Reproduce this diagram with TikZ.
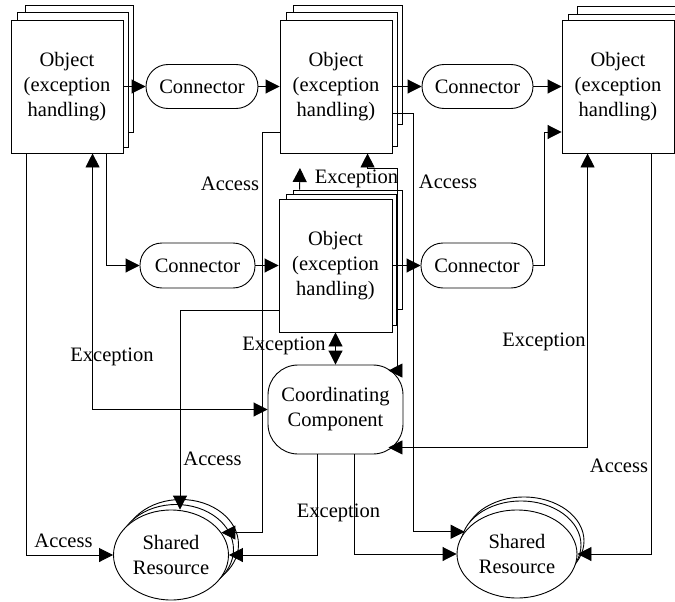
\documentclass[tikz,border=0pt]{standalone}
\usepackage{fontspec}
\setmainfont{Liberation Serif}
\usetikzlibrary{arrows.meta,shapes.geometric}
\begin{document}
\begin{tikzpicture}[x=1pt,y=-1pt,
  every node/.style={font=\fontsize{20.5}{25}\selectfont, inner sep=0pt},
  tip/.tip={Triangle[length=14pt,width=14pt]},
  arr/.style={line width=0.9pt,-tip},
  arrboth/.style={line width=0.9pt,tip-tip},
  obj/.style={draw, fill=white, line width=0.9pt, align=center,
              minimum width=112pt, minimum height=133pt},
  layer/.style={draw, fill=white, line width=0.9pt},
  conn/.style={draw, fill=white, line width=0.9pt, rounded corners=22pt,
               minimum width=112pt, minimum height=44pt},
  res/.style={ellipse, draw, fill=white, line width=0.9pt, align=center},
  lbl/.style={anchor=base}
]
\useasboundingbox (0,0) rectangle (675,602);
\clip (0,0) rectangle (675,602);

% ---- stacked objects (back sheets first, then the front sheet) ----
\draw[layer] (25,5) rectangle (133,132);
\draw[layer] (17,12) rectangle (128,147);
\node[obj] (o1) at (67,86.5) {Object\\(exception\\handling)};

\draw[layer] (293,5) rectangle (402,124);
\draw[layer] (286,12) rectangle (397,146);
\node[obj] (o2) at (336,86.5) {Object\\(exception\\handling)};

\draw[layer] (577,6) rectangle (700,128);
\draw[layer] (568,14) rectangle (690,147);
\node[obj] (o3) at (618,86.5) {Object\\(exception\\handling)};

\draw[layer] (293,190) rectangle (402,309);
\draw[layer] (286,194) rectangle (396,325);
\node[obj, minimum width=113pt] (o4) at (335.5,265.5) {Object\\(exception\\handling)};

% ---- connectors ----
\node[conn] (c1) at (202,86.5) {Connector};
\node[conn, minimum width=111pt] (c2) at (477.5,86.5) {Connector};
\node[conn, minimum width=115pt, minimum height=45pt] (c3) at (197.5,265.5) {Connector};
\node[conn, minimum height=45pt] (c4) at (477,265.5) {Connector};

% ---- coordinating component ----
\node[draw, fill=white, line width=0.9pt, rounded corners=30pt, align=center,
      minimum width=135pt, minimum height=89pt] (cc) at (335.5,409.5)
      {Coordinating\\Component};

% ---- shared resources ----
\draw[layer] (181,544.5) ellipse [x radius=57.5, y radius=45];
\draw[layer] (176,549.5) ellipse [x radius=57.5, y radius=45];
\node[res, minimum width=115pt, minimum height=90pt] (sr1) at (171,555) {Shared\\Resource};

\draw[layer] (524,541) ellipse [x radius=60, y radius=44];
\draw[layer] (521,545) ellipse [x radius=60, y radius=44];
\node[res, minimum width=120pt, minimum height=88pt] (sr2) at (517,554) {Shared\\Resource};

\coordinate (excup) at (300,168);

% ---- flows between objects ----
\draw[arr] (o1) -- (c1);
\draw[arr] (c1) -- (o2);
\draw[arr] (o2) -- (c2);
\draw[arr] (c2) -- (o3);
\draw[arr] (c3) -- (o4);
\draw[arr] (o4) -- (c4);
\draw[arr] (c4.east) -- ++(11,0) |- ([yshift=-45.5pt]o3.west);
\draw[arr] ([xshift=96pt]o1.south west) |- (c3.west);

% ---- exception paths ----
\draw[arrboth] ([xshift=82pt]o1.south west) |- (cc.west);
\draw[arrboth] ([xshift=88pt]o2.south west) -- ++(0,15) -- ++(30,0)
      |- ([xshift=-15pt,yshift=-6pt]cc.north east);
\draw[arr] ([xshift=21pt,yshift=9pt]o4.north west) -- (excup);
\draw[arrboth] (o4) -- (cc);
\draw[arrboth] ([xshift=-15pt,yshift=7pt]cc.south east) -| ([xshift=26pt]o3.south west);
\draw[arr] ([xshift=-18.5pt]cc.south) |- (sr1.east);
\draw[arr] ([xshift=18.5pt]cc.south) |- (sr2.west);

% ---- access paths ----
\draw[arr] ([xshift=16pt]o1.south west) |- (sr1.west);
\draw[arr] ([yshift=-45.5pt]o2.west) -- ++(-17,0) |- (sr1.24);
\draw[arr] ([yshift=-26.5pt]o2.east) -- ++(21,0) |- (sr2.157);
\draw[arr] ([yshift=-44.5pt]o4.west) -| ([xshift=9pt]sr1.north);
\draw[arr] ([xshift=90pt]o3.south west) |- (sr2.east);

% ---- labels ----
\node[lbl] (la1) at (230,190) {Access};
\node[lbl] (la2) at (448,188) {Access};
\node[lbl] (le1) at (356.5,183) {Exception};
\node[lbl] (le2) at (112,361) {Exception};
\node[lbl] (le3) at (284,350) {Exception};
\node[lbl] (le4) at (544,346) {Exception};
\node[lbl] (la3) at (212.5,465) {Access};
\node[lbl] (la4) at (619,472) {Access};
\node[lbl] (la5) at (63.5,547) {Access};
\node[lbl] (le5) at (338.5,517) {Exception};
\end{tikzpicture}
\end{document}
